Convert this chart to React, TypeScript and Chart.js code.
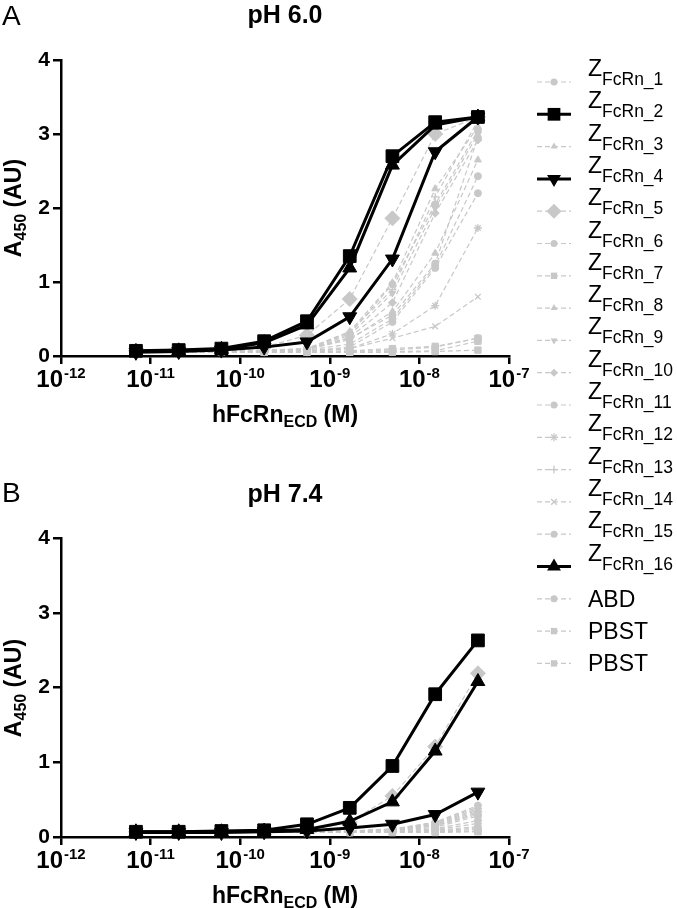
import React, { useEffect, useRef } from 'react';
import { Chart, registerables } from 'chart.js';

Chart.register(...registerables);
Chart.defaults.font.family = '"Liberation Sans", Arial, sans-serif';

// ---------- data ----------
const concentrationsM = [6.86e-12, 2.06e-11, 6.17e-11, 1.85e-10, 5.56e-10, 1.67e-9, 5.0e-9, 1.5e-8, 4.5e-8];
const xTickValues = [1e-12, 1e-11, 1e-10, 1e-9, 1e-8, 1e-7];
const xTickExponents = ['-12', '-11', '-10', '-9', '-8', '-7'];
const yTickValues = [0, 1, 2, 3, 4];

const legendMain = ['Z', 'Z', 'Z', 'Z', 'Z', 'Z', 'Z', 'Z', 'Z', 'Z', 'Z', 'Z', 'Z', 'Z', 'Z', 'Z', 'ABD', 'PBST', 'PBST'];
const legendSub = ['FcRn_1', 'FcRn_2', 'FcRn_3', 'FcRn_4', 'FcRn_5', 'FcRn_6', 'FcRn_7', 'FcRn_8', 'FcRn_9', 'FcRn_10',
  'FcRn_11', 'FcRn_12', 'FcRn_13', 'FcRn_14', 'FcRn_15', 'FcRn_16', '', '', ''];

// pH 6.0
const ph60_Z1 = [0.06, 0.06, 0.07, 0.08, 0.10, 0.30, 0.97, 2.05, 3.05];
const ph60_Z2 = [0.07, 0.08, 0.10, 0.20, 0.47, 1.35, 2.70, 3.16, 3.23];
const ph60_Z3 = [0.05, 0.05, 0.06, 0.07, 0.09, 0.22, 0.60, 1.39, 2.65];
const ph60_Z4 = [0.05, 0.06, 0.08, 0.12, 0.19, 0.53, 1.31, 2.76, 3.23];
const ph60_Z5 = [0.07, 0.07, 0.08, 0.12, 0.28, 0.77, 1.86, 3.00, 3.23];
const ph60_Z6 = [0.05, 0.05, 0.06, 0.07, 0.08, 0.16, 0.50, 1.22, 2.43];
const ph60_Z7 = [0.05, 0.05, 0.05, 0.05, 0.06, 0.07, 0.10, 0.13, 0.24];
const ph60_Z8 = [0.05, 0.06, 0.06, 0.07, 0.10, 0.33, 0.99, 2.26, 3.10];
const ph60_Z9 = [0.05, 0.05, 0.06, 0.07, 0.09, 0.28, 0.85, 2.00, 3.00];
const ph60_Z10 = [0.05, 0.05, 0.06, 0.07, 0.09, 0.25, 0.72, 1.93, 2.92];
const ph60_Z11 = [0.05, 0.05, 0.06, 0.06, 0.07, 0.12, 0.46, 1.19, 2.20];
const ph60_Z12 = [0.05, 0.05, 0.05, 0.06, 0.07, 0.10, 0.30, 0.68, 1.73];
const ph60_Z13 = [0.05, 0.06, 0.06, 0.07, 0.10, 0.32, 0.90, 2.15, 3.18];
const ph60_Z14 = [0.05, 0.05, 0.05, 0.05, 0.06, 0.10, 0.24, 0.40, 0.80];
const ph60_Z15 = [0.05, 0.05, 0.06, 0.07, 0.09, 0.24, 0.55, 1.25, 2.95];
const ph60_Z16 = [0.06, 0.07, 0.09, 0.18, 0.42, 1.19, 2.58, 3.12, 3.23];
const ph60_ABD = [0.05, 0.05, 0.05, 0.05, 0.05, 0.06, 0.08, 0.12, 0.24];
const ph60_PBST = [0.05, 0.05, 0.05, 0.05, 0.05, 0.05, 0.06, 0.07, 0.20];
const ph60_PBST2 = [0.05, 0.05, 0.05, 0.05, 0.05, 0.05, 0.05, 0.06, 0.08];

// pH 7.4
const ph74_Z1 = [0.07, 0.07, 0.07, 0.07, 0.07, 0.08, 0.10, 0.20, 0.42];
const ph74_Z2 = [0.07, 0.07, 0.08, 0.09, 0.17, 0.39, 0.95, 1.91, 2.63];
const ph74_Z3 = [0.06, 0.06, 0.06, 0.07, 0.07, 0.07, 0.09, 0.15, 0.32];
const ph74_Z4 = [0.06, 0.06, 0.06, 0.07, 0.08, 0.12, 0.17, 0.30, 0.60];
const ph74_Z5 = [0.07, 0.07, 0.07, 0.08, 0.09, 0.20, 0.55, 1.21, 2.19];
const ph74_Z6 = [0.06, 0.06, 0.06, 0.06, 0.07, 0.07, 0.09, 0.13, 0.28];
const ph74_Z7 = [0.06, 0.06, 0.06, 0.06, 0.06, 0.06, 0.07, 0.08, 0.12];
const ph74_Z8 = [0.07, 0.07, 0.07, 0.07, 0.07, 0.08, 0.11, 0.19, 0.40];
const ph74_Z9 = [0.06, 0.06, 0.06, 0.07, 0.07, 0.08, 0.10, 0.17, 0.36];
const ph74_Z10 = [0.06, 0.06, 0.06, 0.07, 0.07, 0.08, 0.10, 0.16, 0.34];
const ph74_Z11 = [0.06, 0.06, 0.06, 0.06, 0.06, 0.07, 0.08, 0.11, 0.22];
const ph74_Z12 = [0.06, 0.06, 0.06, 0.06, 0.06, 0.07, 0.08, 0.10, 0.18];
const ph74_Z13 = [0.07, 0.07, 0.07, 0.07, 0.07, 0.08, 0.10, 0.18, 0.38];
const ph74_Z14 = [0.06, 0.06, 0.06, 0.06, 0.06, 0.06, 0.07, 0.09, 0.14];
const ph74_Z15 = [0.06, 0.06, 0.06, 0.06, 0.07, 0.07, 0.09, 0.15, 0.30];
const ph74_Z16 = [0.07, 0.07, 0.07, 0.08, 0.10, 0.21, 0.47, 1.15, 2.08];
const ph74_ABD = [0.06, 0.06, 0.06, 0.06, 0.06, 0.06, 0.07, 0.08, 0.10];
const ph74_PBST = [0.06, 0.06, 0.06, 0.06, 0.06, 0.06, 0.06, 0.07, 0.08];
const ph74_PBST2 = [0.06, 0.06, 0.06, 0.06, 0.06, 0.06, 0.06, 0.06, 0.07];

const ph60Series = [ph60_Z1, ph60_Z2, ph60_Z3, ph60_Z4, ph60_Z5, ph60_Z6, ph60_Z7, ph60_Z8, ph60_Z9, ph60_Z10,
  ph60_Z11, ph60_Z12, ph60_Z13, ph60_Z14, ph60_Z15, ph60_Z16, ph60_ABD, ph60_PBST, ph60_PBST2];
const ph74Series = [ph74_Z1, ph74_Z2, ph74_Z3, ph74_Z4, ph74_Z5, ph74_Z6, ph74_Z7, ph74_Z8, ph74_Z9, ph74_Z10,
  ph74_Z11, ph74_Z12, ph74_Z13, ph74_Z14, ph74_Z15, ph74_Z16, ph74_ABD, ph74_PBST, ph74_PBST2];

// ---------- styles ----------
const GRAY = '#c8c8c8';
const DARK = '#000000';
const FONT = '"Liberation Sans", Arial, sans-serif';

type Style = { pt: string; r: number; rot?: number; dark?: boolean };
const seriesStyles: Style[] = [
  { pt: 'circle', r: 3.5 },
  { pt: 'rect', r: 9, dark: true },
  { pt: 'triangle', r: 4 },
  { pt: 'triangle', r: 8, rot: 180, dark: true },
  { pt: 'rectRot', r: 7.5 },
  { pt: 'circle', r: 3.5 },
  { pt: 'rect', r: 4.5 },
  { pt: 'triangle', r: 4 },
  { pt: 'triangle', r: 4, rot: 180 },
  { pt: 'rectRot', r: 4 },
  { pt: 'circle', r: 3.5 },
  { pt: 'star', r: 4 },
  { pt: 'cross', r: 4 },
  { pt: 'crossRot', r: 4 },
  { pt: 'circle', r: 3.5 },
  { pt: 'triangle', r: 8, dark: true },
  { pt: 'circle', r: 3.5 },
  { pt: 'rect', r: 4.5 },
  { pt: 'rect', r: 4.5 },
];

function makeDatasets(series: number[][]) {
  return series.map((vals, i) => {
    const s = seriesStyles[i];
    const color = s.dark ? DARK : GRAY;
    const stroked = s.pt === 'cross' || s.pt === 'crossRot' || s.pt === 'star';
    return {
      label: legendMain[i] + legendSub[i],
      data: vals.map((y, j) => ({ x: concentrationsM[j], y })),
      borderColor: color,
      backgroundColor: color,
      borderWidth: s.dark ? 3 : 1.2,
      borderDash: s.dark ? [] : [5, 3],
      pointStyle: s.pt,
      pointRadius: s.r,
      pointRotation: s.rot || 0,
      pointBackgroundColor: color,
      pointBorderColor: color,
      pointBorderWidth: stroked ? 1.3 : 1,
      tension: 0,
      order: s.dark ? 0 : 1,
      clip: false as any,
    };
  });
}

const xLabelPlugin = {
  id: 'xPowLabels',
  afterDraw(chart: any) {
    const sc = chart.scales.x;
    const ctx = chart.ctx;
    const base = chart.chartArea.bottom + 31;
    ctx.save();
    ctx.fillStyle = '#000';
    ctx.textAlign = 'left';
    ctx.textBaseline = 'alphabetic';
    xTickValues.forEach((v, i) => {
      const px = sc.getPixelForValue(v);
      ctx.font = `bold 24px ${FONT}`;
      const w1 = ctx.measureText('10').width;
      ctx.font = `bold 15px ${FONT}`;
      const w2 = ctx.measureText(xTickExponents[i]).width;
      const start = px - (w1 + 1 + w2) / 2;
      ctx.font = `bold 24px ${FONT}`;
      ctx.fillText('10', start, base);
      ctx.font = `bold 15px ${FONT}`;
      ctx.fillText(xTickExponents[i], start + w1 + 1, base - 9);
    });
    ctx.restore();
  },
};

function makeConfig(series: number[][], padTop: number, xHeight: number): any {
  const axisGrid = { drawOnChartArea: false, drawTicks: true, tickLength: 8, color: '#000', lineWidth: 2.5 };
  const axisBorder = { display: true, color: '#000', width: 2.5 };
  return {
    type: 'line',
    data: { datasets: makeDatasets(series) },
    options: {
      animation: false,
      responsive: false,
      events: [],
      layout: { padding: { top: padTop, right: 21, left: 0, bottom: 0 } },
      plugins: { legend: { display: false }, tooltip: { enabled: false } },
      scales: {
        x: {
          type: 'logarithmic',
          min: 1e-12,
          max: 1e-7,
          afterBuildTicks: (sc: any) => { sc.ticks = xTickValues.map((v) => ({ value: v })); },
          afterFit: (sc: any) => { sc.height = xHeight; },
          ticks: { display: false },
          grid: axisGrid,
          border: axisBorder,
        },
        y: {
          type: 'linear',
          min: 0,
          max: 4,
          afterBuildTicks: (sc: any) => { sc.ticks = yTickValues.map((v) => ({ value: v })); },
          afterFit: (sc: any) => { sc.width = 61; },
          ticks: { color: '#000', padding: 3, font: { family: FONT, size: 21, weight: 'bold' } },
          grid: axisGrid,
          border: axisBorder,
        },
      },
    },
    plugins: [xLabelPlugin],
  };
}

function Panel({ series, top, padTop, xHeight }: { series: number[][]; top: number; padTop: number; xHeight: number }) {
  const ref = useRef<HTMLCanvasElement>(null);
  useEffect(() => {
    if (!ref.current) return;
    const chart = new Chart(ref.current, makeConfig(series, padTop, xHeight));
    return () => chart.destroy();
  }, []);
  return (
    <canvas ref={ref} width={530} height={430}
      style={{ position: 'absolute', left: 0, top, width: 530, height: 430 }} />
  );
}

function LegendMarker({ s, cx, cy }: { s: Style; cx: number; cy: number }) {
  const color = s.dark ? DARK : GRAY;
  const r = s.r;
  const rot = ((s.rot || 0) * Math.PI) / 180;
  switch (s.pt) {
    case 'circle':
      return <circle cx={cx} cy={cy} r={r} fill={color} />;
    case 'rect': {
      const h = r * Math.SQRT1_2;
      return <rect x={cx - h} y={cy - h} width={2 * h} height={2 * h} fill={color} />;
    }
    case 'rectRot':
      return <polygon points={`${cx},${cy - r} ${cx + r},${cy} ${cx},${cy + r} ${cx - r},${cy}`} fill={color} />;
    case 'triangle': {
      const pts = [0, 1, 2].map((k) => {
        const a = rot + (k * 2 * Math.PI) / 3;
        return `${cx + Math.sin(a) * r},${cy - Math.cos(a) * r}`;
      });
      return <polygon points={pts.join(' ')} fill={color} />;
    }
    case 'cross':
      return (
        <g stroke={color} strokeWidth={1.3}>
          <line x1={cx - r} y1={cy} x2={cx + r} y2={cy} />
          <line x1={cx} y1={cy - r} x2={cx} y2={cy + r} />
        </g>
      );
    case 'crossRot': {
      const d = r * Math.SQRT1_2;
      return (
        <g stroke={color} strokeWidth={1.3}>
          <line x1={cx - d} y1={cy - d} x2={cx + d} y2={cy + d} />
          <line x1={cx - d} y1={cy + d} x2={cx + d} y2={cy - d} />
        </g>
      );
    }
    default: {
      const d = r * Math.SQRT1_2;
      return (
        <g stroke={color} strokeWidth={1.3}>
          <line x1={cx - r} y1={cy} x2={cx + r} y2={cy} />
          <line x1={cx} y1={cy - r} x2={cx} y2={cy + r} />
          <line x1={cx - d} y1={cy - d} x2={cx + d} y2={cy + d} />
          <line x1={cx - d} y1={cy + d} x2={cx + d} y2={cy - d} />
        </g>
      );
    }
  }
}

export default function App() {
  const legendTop = 82;
  const legendStep = 32.3;
  return (
    <div style={{ position: 'absolute', left: 0, top: 0, width: 677, height: 908, background: '#fff', overflow: 'hidden' }}>
      <Panel series={ph60Series} top={0} padTop={60} xHeight={430 - 356} />
      <Panel series={ph74Series} top={470} padTop={68} xHeight={900 - 837} />
      <svg width={677} height={908} style={{ position: 'absolute', left: 0, top: 0, pointerEvents: 'none' }}
        fontFamily={FONT}>
        {/* panel A */}
        <text x={2} y={25} fontSize={28} fill="#000">A</text>
        <text x={285} y={23} fontSize={25} fontWeight="bold" textAnchor="middle" fill="#000">pH 6.0</text>
        <text x={285} y={422} fontSize={23} fontWeight="bold" textAnchor="middle" fill="#000">
          hFcRn<tspan fontSize={16} dy={5}>ECD</tspan><tspan dy={-5}>{'\u00A0(M)'}</tspan>
        </text>
        <text transform="translate(21,208) rotate(-90)" fontSize={23} fontWeight="bold" textAnchor="middle" fill="#000">
          A<tspan fontSize={16} dy={5}>450</tspan><tspan dy={-5}>{'\u00A0(AU)'}</tspan>
        </text>
        {/* panel B */}
        <text x={2} y={502} fontSize={28} fill="#000">B</text>
        <text x={285} y={502} fontSize={25} fontWeight="bold" textAnchor="middle" fill="#000">pH 7.4</text>
        <text x={285} y={903} fontSize={23} fontWeight="bold" textAnchor="middle" fill="#000">
          hFcRn<tspan fontSize={16} dy={5}>ECD</tspan><tspan dy={-5}>{'\u00A0(M)'}</tspan>
        </text>
        <text transform="translate(21,688) rotate(-90)" fontSize={23} fontWeight="bold" textAnchor="middle" fill="#000">
          A<tspan fontSize={16} dy={5}>450</tspan><tspan dy={-5}>{'\u00A0(AU)'}</tspan>
        </text>
        {/* legend */}
        {seriesStyles.map((s, i) => {
          const y = legendTop + legendStep * i;
          const color = s.dark ? DARK : GRAY;
          return (
            <g key={i}>
              <line x1={537} y1={y} x2={571} y2={y} stroke={color} strokeWidth={s.dark ? 3 : 1.2}
                strokeDasharray={s.dark ? undefined : '5 3'} />
              <LegendMarker s={s} cx={554} cy={y} />
              {legendSub[i] ? (
                <text x={588} y={y - 6} fontSize={23} fill="#000">
                  {legendMain[i]}<tspan fontSize={17.5} dy={9}>{legendSub[i]}</tspan>
                </text>
              ) : (
                <text x={588} y={y + 8} fontSize={23} fill="#000">{legendMain[i]}</text>
              )}
            </g>
          );
        })}
      </svg>
    </div>
  );
}
